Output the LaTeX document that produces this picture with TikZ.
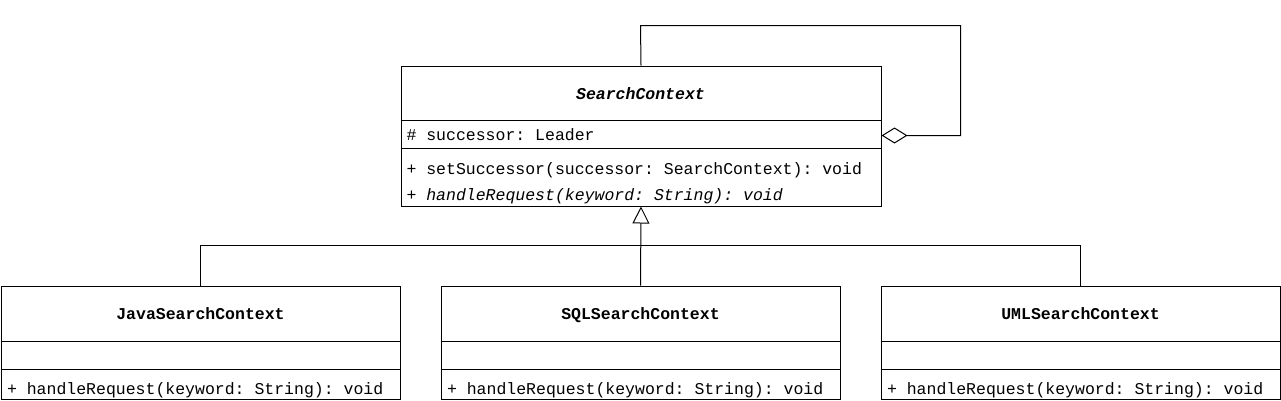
\documentclass[tikz,border=0pt]{standalone}
\usepackage{fontspec}
\setmonofont{Liberation Mono}
\usetikzlibrary{arrows.meta}
\begin{document}
\begin{tikzpicture}[x=1pt,y=-1pt,line width=1pt,
  txt/.style={font=\ttfamily\fontsize{16.5}{18}\selectfont,inner sep=0pt,anchor=base west},
  ttl/.style={font=\ttfamily\bfseries\fontsize{16.5}{18}\selectfont,inner sep=0pt,anchor=base},
  cls/.style={draw=black,fill=white,minimum width=0pt,inner sep=0pt}]
\useasboundingbox (0,0) rectangle (1281,400);
% SearchContext
\node[cls,minimum width=480pt,minimum height=140pt,anchor=north west] (sc) at (400.5,65.5) {};
\draw (400.5,120.5) -- (880.5,120.5);
\draw (400.5,148.5) -- (880.5,148.5);
\node[ttl,font=\ttfamily\bfseries\itshape\fontsize{16.5}{18}\selectfont] (sct) at (640.5,99) {SearchContext};
\node[txt] (sca) at (406,140) {\# successor: Leader};
\node[txt] (scm1) at (406,174) {+ setSuccessor(successor: SearchContext): void};
\node[txt,font=\ttfamily\itshape\fontsize{16.5}{18}\selectfont] (scm2) at (406,200) {+ handleRequest(keyword: String): void};
% subclasses
\foreach \n/\x/\t in {java/0.5/JavaSearchContext, sql/440.5/SQLSearchContext, uml/880.5/UMLSearchContext}{
  \node[cls,minimum width=399pt,minimum height=113pt,anchor=north west] (\n) at (\x,285.5) {};
  \draw (\x,341.5) -- ++(399,0);
  \draw (\x,369.5) -- ++(399,0);
  \node[ttl] (\n t) at (\x+200,319) {\t};
  \node[txt] (\n m) at (\x+6,394) {+ handleRequest(keyword: String): void};
}
% inheritance
\coordinate (bus) at (640.5,245.5);
\draw (java.north) |- (bus) -| (uml.north);
\draw[-{Triangle[open,length=17pt,width=17pt]}] (sql.north) -- (sc.south);
% self aggregation
\coordinate (c1) at (640.5,25.5);
\coordinate (c2) at (960.5,25.5);
\coordinate (c3) at (960.5,135.5);
\draw[-{Diamond[open,length=26pt,width=16pt]}] (sc.north) -- (c1) -- (c2) -- (c3) -- (sc.east |- c3);
\end{tikzpicture}
\end{document}
